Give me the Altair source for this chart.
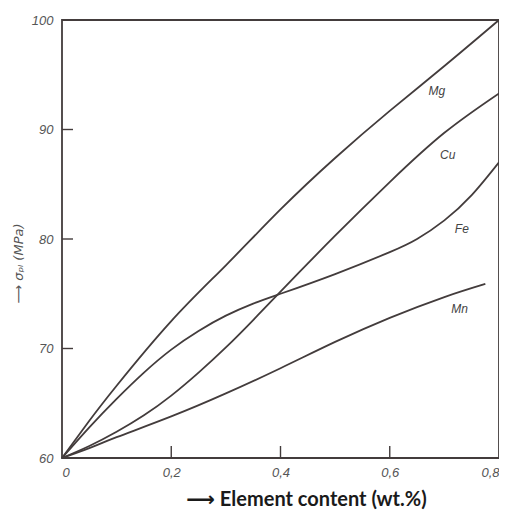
import altair as alt
import pandas as pd

# --- data ---
content_mg = [0, 0.05, 0.1, 0.2, 0.3, 0.4, 0.5, 0.6, 0.7, 0.8]
sigma_mg = [60, 63.4, 66.6, 72.5, 77.6, 82.7, 87.4, 91.7, 95.8, 100]

content_cu = [0, 0.05, 0.1, 0.15, 0.2, 0.25, 0.3, 0.35, 0.4, 0.5, 0.6, 0.7, 0.8]
sigma_cu = [60, 61.1, 62.4, 63.9, 65.7, 67.8, 70.1, 72.6, 75.2, 80.3, 85.2, 89.7, 93.3]

content_fe = [0, 0.05, 0.1, 0.15, 0.2, 0.25, 0.3, 0.35, 0.4, 0.5, 0.6, 0.65, 0.7, 0.75, 0.8]
sigma_fe = [60, 62.8, 65.4, 67.8, 69.9, 71.6, 73.0, 74.1, 75.0, 76.8, 78.8, 80.0, 81.7, 84.0, 87.0]

content_mn = [0, 0.05, 0.1, 0.2, 0.3, 0.4, 0.5, 0.6, 0.7, 0.775]
sigma_mn = [60, 60.9, 61.9, 63.8, 65.9, 68.2, 70.6, 72.8, 74.7, 75.9]

label_names = ["Mg", "Cu", "Fe", "Mn"]
label_x = [0.686, 0.706, 0.732, 0.728]
label_y = [93.5, 87.7, 80.9, 73.6]

x_tick_values = [0.2, 0.4, 0.6]
y_tick_values = [70, 80, 90]
x_label_values = [0, 0.2, 0.4, 0.6, 0.8]
y_label_values = [60, 70, 80, 90, 100]

rows = []
for name, xs, ys in [("Mg", content_mg, sigma_mg), ("Cu", content_cu, sigma_cu),
                     ("Fe", content_fe, sigma_fe), ("Mn", content_mn, sigma_mn)]:
    for x, y in zip(xs, ys):
        rows.append({"element": name, "content": x, "sigma": y})
df = pd.DataFrame(rows)
labels_df = pd.DataFrame({"name": label_names, "content": label_x, "sigma": label_y})
xt_df = pd.DataFrame({"content": x_tick_values})
yt_df = pd.DataFrame({"sigma": y_tick_values})

ink = "#433c3c"
label_color = "#555555"
tick_font = "Liberation Sans Narrow, Liberation Sans, DejaVu Sans"

W, H = 437, 438

xscale = alt.Scale(domain=[0, 0.8], nice=False, zero=False)
yscale = alt.Scale(domain=[60, 100], nice=False, zero=False)

x_axis = alt.Axis(values=x_label_values, ticks=False, domain=False, grid=False,
                  labelExpr="datum.value == 0 ? '0' : replace(format(datum.value, '.1f'), '.', ',')",
                  labelFlush=True, labelOverlap=False,
                  labelPadding=8, labelFont=tick_font, labelFontSize=13,
                  labelFontStyle="italic", labelColor=label_color,
                  title="⟶ Element content (wt.%)", titleFont="Lato, DejaVu Sans",
                  titleFontSize=20, titleFontWeight="bold", titleColor="#1a1a1a",
                  titleX=244, titleY=41, titleBaseline="middle", titleAlign="center")
y_axis = alt.Axis(values=y_label_values, ticks=False, domain=False, grid=False,
                  labelFlush=False, labelOverlap=False,
                  labelPadding=9, labelFont=tick_font, labelFontSize=13,
                  labelFontStyle="italic", labelColor=label_color,
                  title="⟶ σₚₗ  (MPa)", titleFont="DejaVu Sans",
                  titleFontSize=13, titleFontWeight="normal", titleFontStyle="italic",
                  titleColor=label_color, titleAngle=270,
                  titleX=-44, titleY=243, titleBaseline="middle", titleAlign="center")

X = lambda: alt.X("content:Q", scale=xscale, axis=x_axis)
Y = lambda: alt.Y("sigma:Q", scale=yscale, axis=y_axis)

lines = alt.Chart(df).mark_line(color=ink, strokeWidth=1.8, interpolate="natural").encode(
    x=X(), y=Y(), detail="element:N",
)

texts = alt.Chart(labels_df).mark_text(fontStyle="italic", fontSize=12, font=tick_font,
                                       color="#444444").encode(
    x=X(), y=Y(), text="name:N",
)

xticks = alt.Chart(xt_df).mark_rule(color=ink, strokeWidth=1.4).encode(
    x=X(), y=alt.value(H), y2=alt.value(H - 12),
)

yticks = alt.Chart(yt_df).mark_rule(color=ink, strokeWidth=1.4).encode(
    y=Y(), x=alt.value(0), x2=alt.value(11),
)

chart = alt.layer(lines, xticks, yticks, texts).properties(
    width=W, height=H,
    padding={"left": 54, "top": 12, "right": 0, "bottom": 56},
    autosize=alt.AutoSizeParams(type="none"),
    background="white",
).configure_view(stroke=ink, strokeWidth=1.8)

chart.save("out.html", embed_options={"renderer": "svg", "actions": False})
